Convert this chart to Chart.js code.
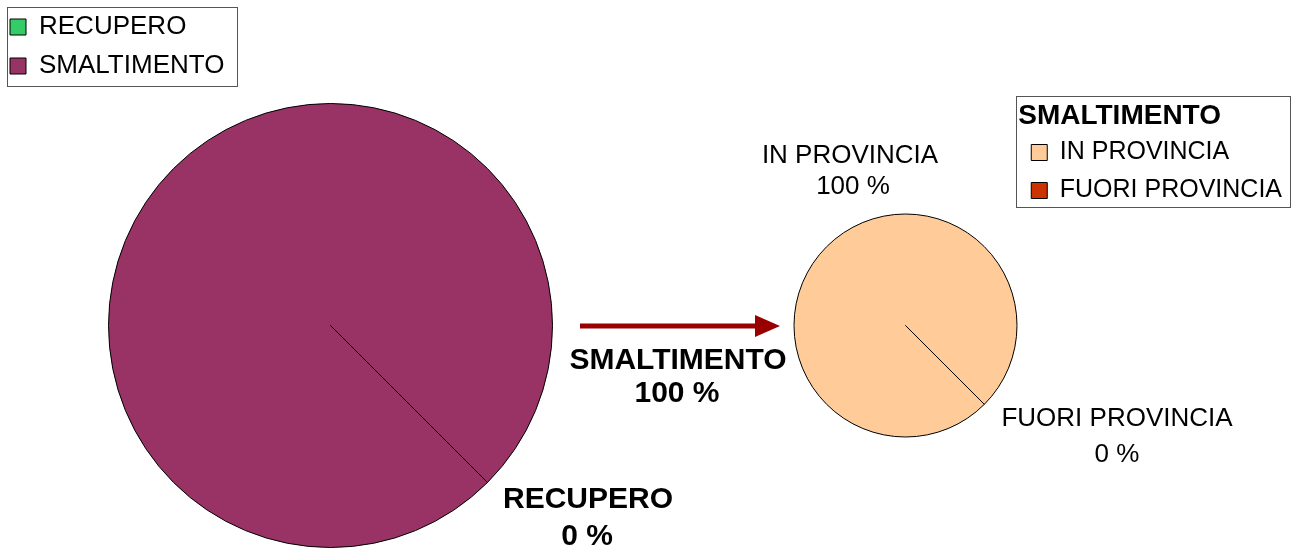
<!DOCTYPE html>
<html>
<head>
<meta charset="utf-8">
<title>Recupero / Smaltimento</title>
<script src="https://cdn.jsdelivr.net/npm/chart.js@4.4.1/dist/chart.umd.min.js"></script>
<style>
  html, body { margin: 0; padding: 0; background: #fff; }
  #wrap { position: relative; width: 1296px; height: 551px; overflow: hidden; }
  #wrap canvas { position: absolute; left: 0; top: 0; }
</style>
</head>
<body>
<div id="wrap">
  <canvas id="mainPie" width="1296" height="551"></canvas>
  <canvas id="subPie" width="1296" height="551"></canvas>
</div>
<script>
// ===== dati =====
const mainLabels = ["RECUPERO", "SMALTIMENTO"];
const mainValues = [0, 100];
const mainColors = ["#33CC66", "#993366"];

const subTitle = "SMALTIMENTO";
const subLabels = ["IN PROVINCIA", "FUORI PROVINCIA"];
const subValues = [100, 0];
const subColors = ["#FFCC99", "#CC3300"];

const FONT = "'Liberation Sans', Arial, sans-serif";
Chart.defaults.font.family = FONT;
Chart.defaults.color = "#000";

// ===== plugin: posiziona la torta (area del grafico) =====
const pieArea = {
  id: "pieArea",
  afterLayout(chart, args, opts) {
    const r = opts.r;
    chart.chartArea = {
      left: opts.cx - r, top: opts.cy - r,
      right: opts.cx + r, bottom: opts.cy + r,
      width: 2 * r, height: 2 * r
    };
  }
};

// ===== plugin: cornice della legenda =====
const legendFrame = {
  id: "legendFrame",
  afterDraw(chart, args, opts) {
    const lg = chart.legend;
    if (!lg || !lg.legendHitBoxes || !lg.legendHitBoxes.length) return;
    const hb = lg.legendHitBoxes;
    const l = Math.min(...hb.map(b => b.left)) - opts.left;
    const r = Math.max(...hb.map(b => b.left + b.width)) + opts.right;
    const t = (opts.fromTop ? lg.top : Math.min(...hb.map(b => b.top))) - opts.top;
    const b = Math.max(...hb.map(b => b.top + b.height)) + opts.bottom;
    const ctx = chart.ctx;
    ctx.save();
    ctx.strokeStyle = "#555";
    ctx.lineWidth = 1;
    ctx.strokeRect(Math.round(l) + 0.5, Math.round(t) + 0.5, Math.round(r - l), Math.round(b - t));
    ctx.restore();
  }
};

// ===== plugin: etichette delle fette =====
const sliceLabels = {
  id: "sliceLabels",
  afterDraw(chart, args, opts) {
    const ctx = chart.ctx;
    const labels = chart.data.labels;
    const values = chart.data.datasets[0].data;
    ctx.save();
    ctx.fillStyle = "#000";
    ctx.textAlign = "center";
    ctx.textBaseline = "middle";
    ctx.font = opts.font;
    opts.pos.forEach((p, i) => {
      ctx.fillText(labels[i], p.x, p.y);
      ctx.fillText(values[i] + " %", p.x2, p.y + p.gap);
    });
    ctx.restore();
  }
};

// ===== plugin: freccia =====
const arrow = {
  id: "arrow",
  afterDraw(chart, args, opts) {
    const ctx = chart.ctx;
    ctx.save();
    ctx.strokeStyle = opts.color;
    ctx.fillStyle = opts.color;
    ctx.lineWidth = 5;
    ctx.beginPath();
    ctx.moveTo(opts.x1, opts.y);
    ctx.lineTo(opts.x2 - opts.head, opts.y);
    ctx.stroke();
    ctx.beginPath();
    ctx.moveTo(opts.x2, opts.y);
    ctx.lineTo(opts.x2 - opts.head, opts.y - opts.half);
    ctx.lineTo(opts.x2 - opts.head, opts.y + opts.half);
    ctx.closePath();
    ctx.fill();
    ctx.restore();
  }
};

// ===== torta principale =====
new Chart(document.getElementById("mainPie"), {
  type: "pie",
  data: {
    labels: mainLabels,
    datasets: [{
      data: mainValues,
      backgroundColor: mainColors,
      borderColor: "#000",
      borderWidth: 1,
      hoverOffset: 0
    }]
  },
  options: {
    responsive: false,
    animation: false,
    events: [],
    rotation: 135,
    layout: { padding: { left: -3, top: 1 } },
    plugins: {
      tooltip: { enabled: false },
      legend: {
        position: "left",
        align: "start",
        labels: {
          font: { size: 26 },
          boxWidth: 16,
          boxHeight: 16,
          padding: 13,
          color: "#000"
        }
      },
      pieArea: { cx: 330.5, cy: 325.5, r: 222.5 },
      legendFrame: { left: 3, right: 13, top: 7, bottom: 7 },
      sliceLabels: {
        font: "bold 30px " + FONT,
        pos: [
          { x: 588, y: 500, x2: 587, gap: 37 },
          { x: 678, y: 361, x2: 677, gap: 33 }
        ]
      },
      arrow: { x1: 580, x2: 780, y: 326, head: 25, half: 11, color: "#990000" }
    }
  },
  plugins: [pieArea, legendFrame, sliceLabels, arrow]
});

// ===== torta smaltimento =====
new Chart(document.getElementById("subPie"), {
  type: "pie",
  data: {
    labels: subLabels,
    datasets: [{
      data: subValues,
      backgroundColor: subColors,
      borderColor: "#000",
      borderWidth: 1,
      hoverOffset: 0
    }]
  },
  options: {
    responsive: false,
    animation: false,
    events: [],
    rotation: 135,
    layout: { padding: { top: 98, right: 4 } },
    plugins: {
      tooltip: { enabled: false },
      legend: {
        position: "right",
        align: "start",
        title: {
          display: true,
          text: subTitle,
          position: "start",
          color: "#000",
          font: { size: 28, weight: "bold", lineHeight: 1 },
          padding: { top: 4, bottom: -3 }
        },
        labels: {
          font: { size: 25 },
          boxWidth: 16,
          boxHeight: 16,
          padding: 13,
          color: "#000"
        }
      },
      pieArea: { cx: 905.5, cy: 325.5, r: 112 },
      legendFrame: { fromTop: true, left: 15, right: 8, top: 2, bottom: 4 },
      sliceLabels: {
        font: "26px " + FONT,
        pos: [
          { x: 850, y: 156, x2: 853, gap: 31 },
          { x: 1117, y: 419, x2: 1117, gap: 36 }
        ]
      }
    }
  },
  plugins: [pieArea, legendFrame, sliceLabels]
});
</script>
</body>
</html>
